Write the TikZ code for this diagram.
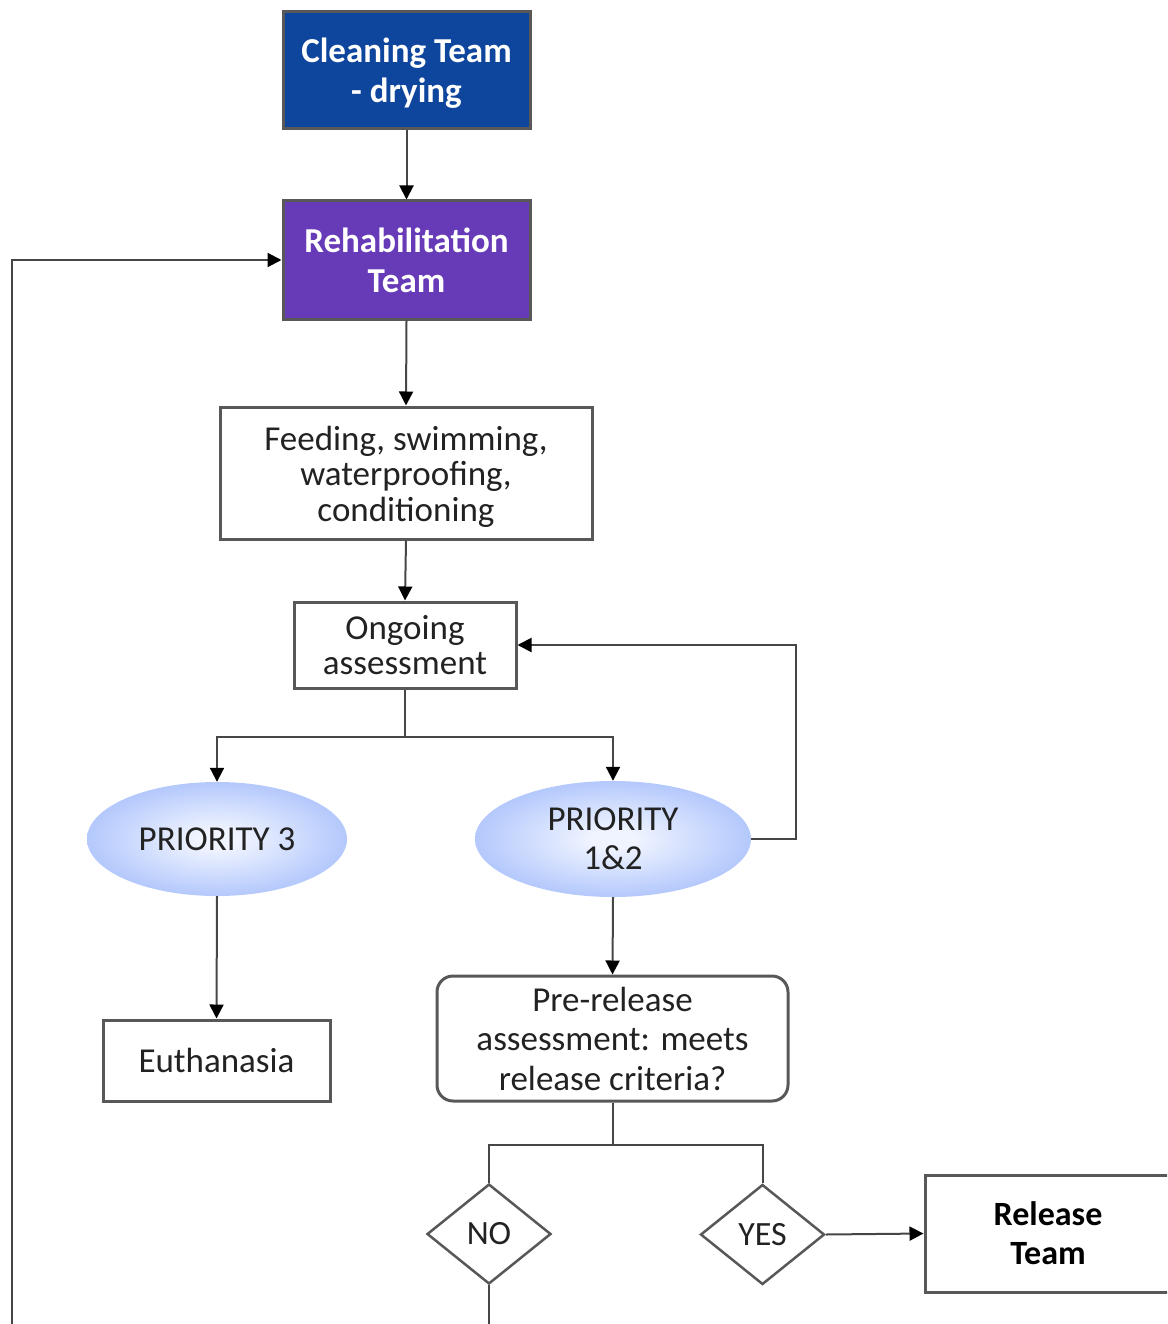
\documentclass[tikz,border=0pt]{standalone}
\usepackage{fontspec}
\setmainfont{Carlito}
\usetikzlibrary{shapes.geometric,arrows.meta}

\definecolor{cleanblue}{RGB}{14,70,158}
\definecolor{rehabpurple}{RGB}{103,58,183}
\definecolor{edgegray}{RGB}{88,88,88}
\definecolor{linegray}{RGB}{70,70,70}
\definecolor{textgray}{RGB}{34,34,34}
\definecolor{ovalblue}{RGB}{148,174,249}
\definecolor{ovalmid}{RGB}{182,202,252}
\definecolor{ovalcore}{RGB}{240,244,255}

\pgfdeclareradialshading{ovalglow}{\pgfpoint{0bp}{0bp}}{%
  color(0bp)=(ovalcore); color(4bp)=(ovalcore); color(24bp)=(ovalmid);
  color(42bp)=(ovalblue); color(100bp)=(ovalblue)}

\tikzset{
  base/.style={inner sep=0pt, align=center, text=textgray},
  teambox/.style={base, draw=edgegray, line width=3pt, text=white,
    font=\fontsize{35}{40}\selectfont\bfseries},
  taskbox/.style={base, draw=edgegray, line width=3pt, fill=white,
    font=\fontsize{35}{35.5}\selectfont},
  roundbox/.style={taskbox, rounded corners=16pt, font=\fontsize{35}{39.5}\selectfont},
  oval/.style={base, ellipse, shading=ovalglow, draw=none,
    font=\fontsize{35}{39}\selectfont},
  choice/.style={base, diamond, draw=edgegray, line width=2.5pt, fill=white,
    minimum width=124pt, minimum height=100pt, font=\fontsize{34}{34}\selectfont},
  flow/.style={draw=linegray, line width=2pt, -{Triangle[length=14pt,width=14pt,color=black]}},
  plain/.style={draw=linegray, line width=2pt}
}

\begin{document}
\begin{tikzpicture}[x=1pt,y=-1pt]
\useasboundingbox (0,0) rectangle (1167,1324);
\clip (0,0) rectangle (1167,1324);

% team boxes
\node[teambox, fill=cleanblue, minimum width=247pt, minimum height=117pt]
  (clean) at (406.5,70.5) {\rule{0pt}{30pt}Cleaning Team\\- drying};
\node[teambox, fill=rehabpurple, minimum width=247pt, minimum height=118pt]
  (rehab) at (406.5,260) {Rehabilitation\\Team};

% care and assessment
\node[taskbox, minimum width=372pt, minimum height=132pt]
  (feed) at (406,473) {\rule{0pt}{32pt}Feeding, swimming,\\waterproofing,\\conditioning};
\node[taskbox, minimum width=222pt, minimum height=86pt]
  (ong) at (405,645) {Ongoing\\assessment};

% priority groups
\node[oval, minimum width=260pt, minimum height=114pt]
  (p3) at (217,839) {PRIORITY 3};
\node[oval, minimum width=276pt, minimum height=116pt]
  (p12) at (613,839) {PRIORITY\\1\&2};

% outcomes
\node[taskbox, minimum width=227pt, minimum height=81pt]
  (euth) at (216.5,1060.5) {Euthanasia};
\node[roundbox, minimum width=351pt, minimum height=125pt]
  (pre) at (612.5,1038.5) {Pre-release\\assessment: meets\\release criteria?};

% decision
\node[choice] (no) at (489,1234) {NO};
\node[choice] (yes) at (762.5,1234.5) {YES};
\node[teambox, text=black, fill=white, minimum width=246pt, minimum height=117pt,
  font=\fontsize{34}{39}\selectfont\bfseries]
  (rel) at (1048,1233.5) {Release\\Team};

% connectors
\draw[flow] (clean.south) -- (rehab.north);
\draw[flow] (rehab.south) -- (feed.north);
\draw[flow] (feed.south) -- (ong.north);
\draw[plain] (ong.south) -- ++(0,47) coordinate (split);
\draw[flow] (split) -| (p3.north);
\draw[flow] (split) -| (p12.north);
\draw[flow] (p12.east) -- ++(45,0) |- (ong.east);
\draw[flow] (p3.south) -- (euth.north);
\draw[flow] (p12.south) -- (pre.north);
\draw[plain] (pre.south) -- ++(0,42) coordinate (split2);
\draw[plain] (split2) -| (no.north);
\draw[plain] (split2) -| (yes.north);
\draw[flow] (yes.east) -- (rel.west);
\coordinate (loop) at (12,1345);
\draw[flow] (no.south) |- (loop) |- (rehab.west);
\end{tikzpicture}
\end{document}
